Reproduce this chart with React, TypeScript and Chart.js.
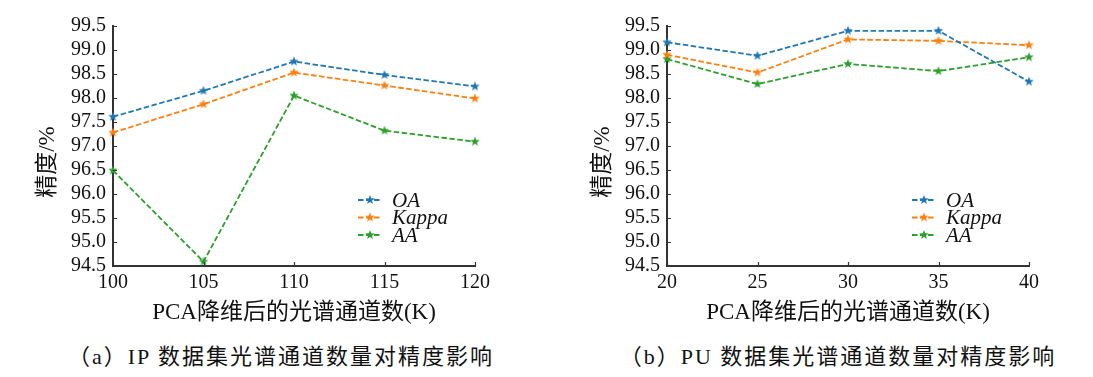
import React, { useEffect, useRef } from "react";
import { Chart, registerables } from "chart.js";

Chart.register(...registerables);

// ---------- data ----------
const ipCategories = ["100", "105", "110", "115", "120"];
const ipOA = [97.61, 98.15, 98.76, 98.48, 98.24];
const ipKappa = [97.28, 97.87, 98.53, 98.26, 97.99];
const ipAA = [96.49, 94.59, 98.05, 97.32, 97.09];

const puCategories = ["20", "25", "30", "35", "40"];
const puOA = [99.16, 98.88, 99.4, 99.4, 98.34];
const puKappa = [98.9, 98.53, 99.22, 99.19, 99.1];
const puAA = [98.81, 98.29, 98.71, 98.56, 98.85];

const seriesNames = ["OA", "Kappa", "AA"];
const seriesColors = ["#1f77b4", "#ff7f0e", "#2ca02c"];
const yMin = 94.5;
const yMax = 99.5;
const yStep = 0.5;
const xTitle = "PCA降维后的光谱通道数(K)";
const yTitle = "精度/%";
const captionA = "（a）IP 数据集光谱通道数量对精度影响";
const captionB = "（b）PU 数据集光谱通道数量对精度影响";

const FONT = '"Liberation Serif", "Noto Sans CJK SC", serif';

function makeStar(color: string, r = 5): HTMLCanvasElement {
  const s = Math.ceil(r * 2 + 2);
  const c = document.createElement("canvas");
  c.width = s;
  c.height = s;
  const ctx = c.getContext("2d")!;
  ctx.fillStyle = color;
  ctx.beginPath();
  for (let i = 0; i < 10; i++) {
    const rad = i % 2 === 0 ? r : r * 0.42;
    const a = -Math.PI / 2 + (i * Math.PI) / 5;
    ctx.lineTo(s / 2 + rad * Math.cos(a), s / 2 + rad * Math.sin(a));
  }
  ctx.closePath();
  ctx.fill();
  return c;
}

const innerTicksPlugin = {
  id: "innerTicks",
  afterDraw(chart: any) {
    const ctx = chart.ctx;
    const x = chart.scales.x;
    const y = chart.scales.y;
    const area = chart.chartArea;
    ctx.save();
    ctx.strokeStyle = "#333";
    ctx.lineWidth = 1.2;
    ctx.beginPath();
    y.ticks.forEach((_t: any, i: number) => {
      const py = Math.round(y.getPixelForTick(i)) + 0.5;
      ctx.moveTo(area.left, py);
      ctx.lineTo(area.left + 4, py);
    });
    x.ticks.forEach((_t: any, i: number) => {
      const px = Math.round(x.getPixelForTick(i)) + 0.5;
      ctx.moveTo(px, area.bottom);
      ctx.lineTo(px, area.bottom - 4);
    });
    ctx.stroke();
    ctx.restore();
  },
};

const innerLegendPlugin = {
  id: "innerLegend",
  afterDraw(chart: any, _args: any, opts: any) {
    const ctx = chart.ctx;
    const area = chart.chartArea;
    const x0 = area.left + (opts.dx ?? 245);
    const y0 = area.top + (opts.dy ?? 174);
    ctx.save();
    chart.data.datasets.forEach((ds: any, i: number) => {
      const yy = y0 + i * 17.5;
      ctx.strokeStyle = ds.borderColor;
      ctx.lineWidth = 1.8;
      ctx.setLineDash([5.5, 2.5]);
      ctx.beginPath();
      ctx.moveTo(x0, yy);
      ctx.lineTo(x0 + 24, yy);
      ctx.stroke();
      ctx.setLineDash([]);
      const img = ds.pointStyle as HTMLCanvasElement;
      ctx.drawImage(img, x0 + 12 - img.width / 2, yy - img.height / 2);
      ctx.fillStyle = "#111";
      ctx.font = `italic 21px ${FONT}`;
      ctx.textBaseline = "middle";
      ctx.textAlign = "left";
      ctx.fillText(ds.label, x0 + 34, yy + 1);
    });
    ctx.restore();
  },
};

function makeConfig(categories: string[], series: number[][], rightPad: number, axisLeft: number, width: number, height: number) {
  return {
    type: "line" as const,
    data: {
      labels: categories,
      datasets: series.map((vals, i) => ({
        label: seriesNames[i],
        data: vals,
        borderColor: seriesColors[i],
        backgroundColor: seriesColors[i],
        borderWidth: 1.8,
        borderDash: [5.5, 2.5],
        pointStyle: makeStar(seriesColors[i]),
        pointRadius: 5,
        pointHoverRadius: 5,
        tension: 0,
        fill: false,
        clip: false as any,
      })),
    },
    options: {
      responsive: false,
      animation: false as const,
      devicePixelRatio: 1,
      layout: { padding: { top: 26, right: rightPad, left: 0, bottom: 0 } },
      plugins: {
        legend: { display: false },
        tooltip: { enabled: false },
        innerLegend: { dx: 245, dy: 174 },
      },
      scales: {
        x: {
          type: "category" as const,
          offset: false,
          grid: { display: false, drawTicks: false },
          border: { display: true, color: "#333", width: 2 },
          ticks: { color: "#111", font: { family: FONT, size: 20 }, padding: 5, maxRotation: 0, autoSkip: false },
          title: {
            display: true,
            text: xTitle,
            color: "#111",
            font: { family: FONT, size: 23 },
            padding: { top: 0, bottom: 8 },
          },
          afterFit(scale: any) {
            scale.height = height - 266;
          },
        },
        y: {
          type: "linear" as const,
          min: yMin,
          max: yMax,
          grid: { display: false, drawTicks: false },
          border: { display: true, color: "#333", width: 2 },
          ticks: {
            stepSize: yStep,
            autoSkip: false,
            color: "#111",
            font: { family: FONT, size: 20 },
            padding: 7,
            callback: (v: any) => Number(v).toFixed(1),
          },
          afterFit(scale: any) {
            scale.width = axisLeft;
          },
        },
      },
    },
    plugins: [innerTicksPlugin, innerLegendPlugin],
  };
}

function LineChart(props: { left: number; width: number; height: number; categories: string[]; series: number[][]; rightPad: number; axisLeft: number }) {
  const ref = useRef<HTMLCanvasElement | null>(null);
  useEffect(() => {
    if (!ref.current) return;
    const chart = new Chart(
      ref.current,
      makeConfig(props.categories, props.series, props.rightPad, props.axisLeft, props.width, props.height) as any
    );
    return () => chart.destroy();
  }, []);
  return (
    <canvas
      ref={ref}
      width={props.width}
      height={props.height}
      style={{ position: "absolute", left: props.left, top: 0, width: props.width, height: props.height, display: "block" }}
    />
  );
}

function YTitle(props: { cx: number; cy: number }) {
  return (
    <div
      style={{
        position: "absolute",
        left: props.cx - 60,
        top: props.cy - 14,
        width: 120,
        height: 28,
        lineHeight: "28px",
        textAlign: "center",
        fontFamily: FONT,
        fontSize: 23,
        color: "#111",
        transform: "rotate(-90deg)",
        transformOrigin: "50% 50%",
        whiteSpace: "nowrap",
      }}
    >
      {yTitle}
    </div>
  );
}

function Caption(props: { cx: number; cy: number; text: string }) {
  return (
    <div
      style={{
        position: "absolute",
        left: props.cx - 300,
        top: props.cy - 13,
        width: 600,
        height: 26,
        lineHeight: "26px",
        textAlign: "center",
        fontFamily: FONT,
        fontSize: 22,
        letterSpacing: "2px",
        color: "#111",
        whiteSpace: "nowrap",
      }}
    >
      {props.text}
    </div>
  );
}

export default function App() {
  return (
    <div style={{ position: "fixed", left: 0, top: 0, width: 1093, height: 377, background: "#fff", overflow: "hidden" }}>
      <LineChart left={0} width={548} height={335} categories={ipCategories} series={[ipOA, ipKappa, ipAA]} rightPad={73} axisLeft={113} />
      <LineChart left={548} width={545} height={335} categories={puCategories} series={[puOA, puKappa, puAA]} rightPad={64} axisLeft={119} />
      <YTitle cx={47} cy={162} />
      <YTitle cx={602} cy={162} />
      <Caption cx={281} cy={357} text={captionA} />
      <Caption cx={838} cy={357} text={captionB} />
    </div>
  );
}
